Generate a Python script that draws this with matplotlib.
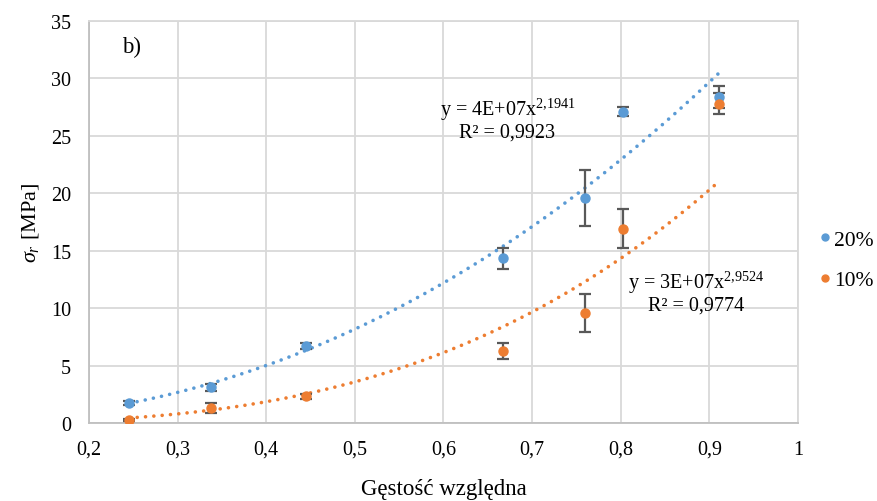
import numpy as np
import matplotlib
matplotlib.use('Agg')
import matplotlib.pyplot as plt
from matplotlib.lines import Line2D

plt.rcParams['font.family'] = ['Liberation Serif', 'DejaVu Serif']
plt.rcParams['mathtext.fontset'] = 'custom'
plt.rcParams['mathtext.rm'] = 'Liberation Serif'
plt.rcParams['mathtext.it'] = 'Liberation Serif:italic'

# dane
gestosc = [0.245, 0.338, 0.445, 0.667, 0.760, 0.803, 0.911]
sigma_20 = [1.74, 3.11, 6.68, 14.35, 19.57, 27.1, 28.4]
err_20 = [0.2, 0.3, 0.25, 0.9, 2.45, 0.4, 0.95]
sigma_10 = [0.29, 1.31, 2.33, 6.24, 9.58, 16.9, 27.8]
err_10 = [0.1, 0.4, 0.2, 0.7, 1.65, 1.7, 0.9]

trend_a = [37.4, 27.7]
trend_b = [2.1941, 2.9524]

etykiety = ['20%', '10%']
kolory = ['#5B9BD5', '#ED7D31']

fig = plt.figure(figsize=(8.77, 5.02), dpi=100)
ax = fig.add_axes([89/877, 1 - 424/502, (798 - 89)/877, (424 - 22)/502])

xs = np.linspace(min(gestosc), max(gestosc), 200)
for a, b, kol in zip(trend_a, trend_b, kolory):
    ax.plot(xs, a * xs ** b, color=kol, lw=2.6,
            linestyle=(0, (0.01, 2.3)), dash_capstyle='round', zorder=2)

for y, e, kol in [(sigma_20, err_20, kolory[0]), (sigma_10, err_10, kolory[1])]:
    ax.errorbar(gestosc, y, yerr=e, fmt='o', color=kol, ms=6.5,
                ecolor='#595959', elinewidth=1.6, capsize=4, capthick=1.6, zorder=3)

ax.set_xlim(0.2, 1.0)
ax.set_ylim(0, 35)
ax.set_xticks(np.arange(0.2, 1.01, 0.1))
ax.set_xticklabels(['0,2', '0,3', '0,4', '0,5', '0,6', '0,7', '0,8', '0,9', '1'])
ax.set_yticks(range(0, 36, 5))
ax.grid(True, color='#D9D9D9', lw=1.3)
ax.set_axisbelow(True)
for s in ax.spines.values():
    s.set_color('#D9D9D9')
    s.set_linewidth(1.3)
ax.spines['bottom'].set_color('#BFBFBF')
ax.spines['left'].set_color('#BFBFBF')
ax.tick_params(length=0, labelsize=14.5)
ax.tick_params(axis='y', pad=13)
ax.tick_params(axis='x', pad=12)

ax.set_xlabel('Gęstość względna', fontsize=16.5, labelpad=14)
ax.set_ylabel(r'$\mathit{\sigma_r}$ [MPa]', fontsize=16, labelpad=7)

ax.text(0.237, 32.8, 'b)', fontsize=16.5, va='center', ha='left')
ax.text(0.672, 27.35, r'y = 4E+07x$^{2{,}1941}$', fontsize=14.5, ha='center', va='center')
ax.text(0.672, 25.3, 'R² = 0,9923', fontsize=14.5, ha='center', va='center')
ax.text(0.885, 12.3, r'y = 3E+07x$^{2{,}9524}$', fontsize=14.5, ha='center', va='center')
ax.text(0.885, 10.3, 'R² = 0,9774', fontsize=14.5, ha='center', va='center')

uchwyty = [Line2D([], [], marker='o', ls='', color=k, ms=5) for k in kolory]
fig.legend(uchwyty, etykiety, loc='center left', bbox_to_anchor=(806/877, 1 - 261/502),
           frameon=False, fontsize=15.5, handletextpad=-0.1, labelspacing=0.95,
           handlelength=1.0, borderaxespad=0)

fig.savefig('out.png', dpi=100)
